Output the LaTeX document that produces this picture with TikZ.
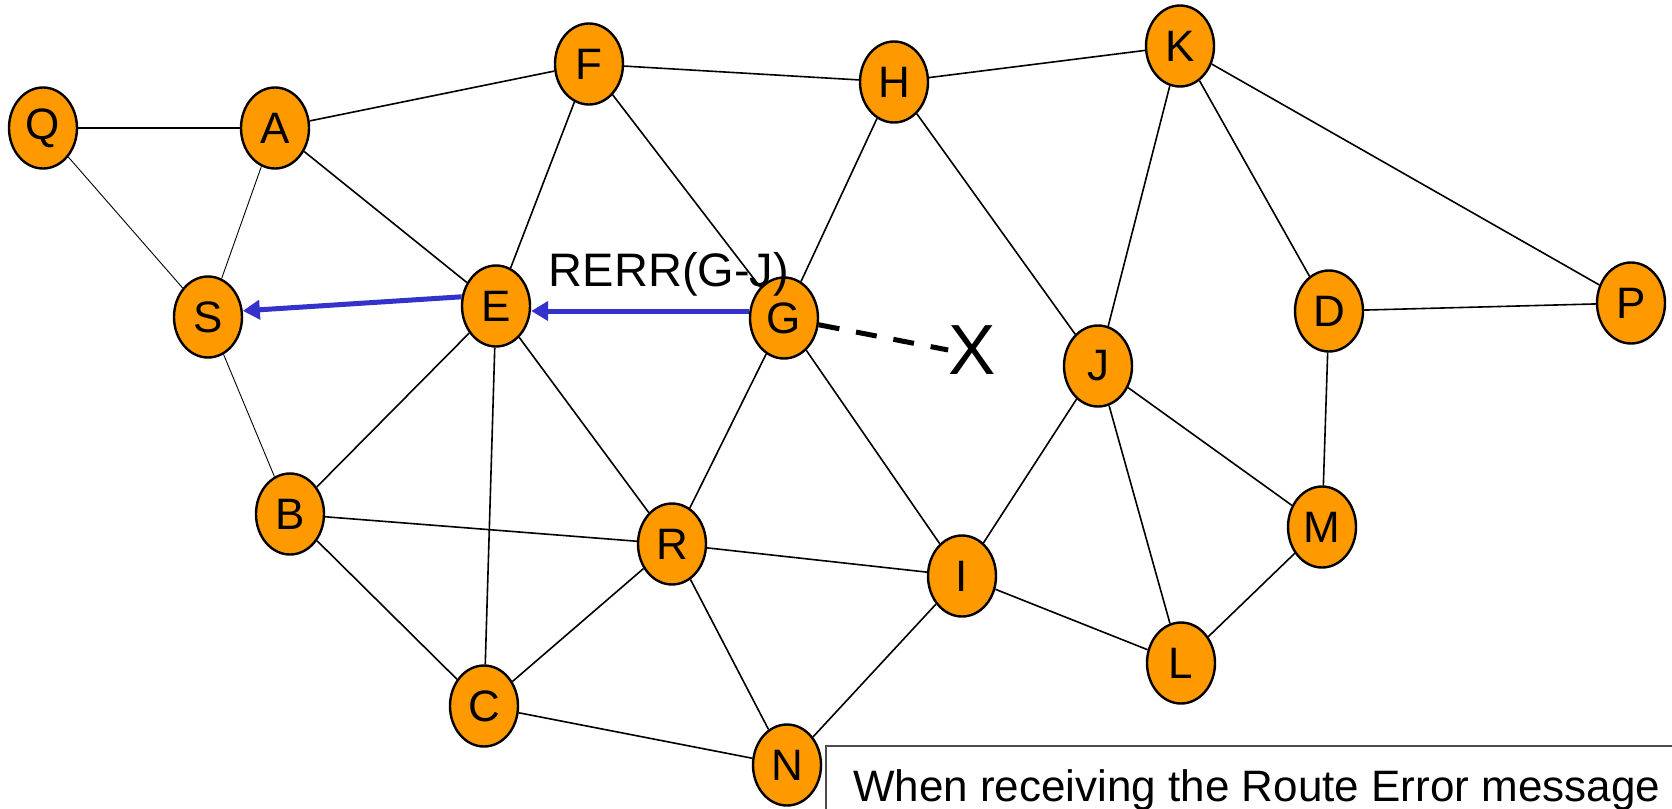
\documentclass[tikz,border=0pt]{standalone}
\usepackage{fontspec}
\setmainfont{Liberation Sans}
\usetikzlibrary{arrows.meta, positioning, shapes.geometric}
\definecolor{hostorange}{RGB}{255,153,0}
\definecolor{rerrblue}{RGB}{51,51,204}

\begin{document}
\begin{tikzpicture}[x=1pt, y=-1pt,
  host/.style={draw, ellipse, fill=hostorange, line width=2.4pt,
    minimum width=68pt, minimum height=81pt, inner sep=0pt,
    font=\fontsize{44}{48}\selectfont},
  link/.style={line width=1.6pt},
  weak/.style={line width=0.9pt},
  rerr/.style={draw=rerrblue, line width=5pt, -{Triangle[length=17pt,width=19pt]}}]
  \useasboundingbox (0,0) rectangle (1672,808);
  \clip (0,0) rectangle (1672,808);

  % hosts
  \node[host] (q) at (43,128)  {Q};
  \node[host] (a) at (275,128) {A};
  \node[host] (f) at (589,64)  {F};
  \node[host] (h) at (894,82)  {H};
  \node[host] (k) at (1180,46) {K};
  \node[host] (s) at (208,317) {S};
  \node[host] (e) at (496,306) {E};
  \node[host] (g) at (784,318) {G};
  \node[host] (d) at (1329,311) {D};
  \node[host] (p) at (1631,303) {P};
  \node[host] (j) at (1098,366) {J};
  \node[host] (b) at (290,514) {B};
  \node[host] (r) at (672,544) {R};
  \node[host] (i) at (962,576) {I};
  \node[host] (m) at (1322,527) {M};
  \node[host] (l) at (1181,663) {L};
  \node[host] (c) at (484,706) {C};
  \node[host] (n) at (787,765) {N};
  \node[inner sep=0pt, font=\fontsize{71}{71}\selectfont] (x) at (972,350) {X};

  % links
  \draw[link] (q) -- (a);
  \draw[weak] (q) -- (s);
  \draw[weak] (a) -- (s);
  \draw[link] (a) -- (f);
  \draw[link] (a) -- (e);
  \draw[link] (f) -- (h);
  \draw[link] (f) -- (e);
  \draw[link] (f) -- (g);
  \draw[link] (h) -- (k);
  \draw[link] (h) -- (g);
  \draw[link] (h) -- (j);
  \draw[link] (k) -- (j);
  \draw[link] (k) -- (d);
  \draw[link] (k) -- (p);
  \draw[link] (d) -- (p);
  \draw[link] (d) -- (m);
  \draw[weak] (s) -- (b);
  \draw[link] (e) -- (b);
  \draw[link] (e) -- (c);
  \draw[link] (e) -- (r);
  \draw[link] (b) -- (r);
  \draw[link] (b) -- (c);
  \draw[link] (g) -- (r);
  \draw[link] (g) -- (i);
  \draw[link] (r) -- (i);
  \draw[link] (r) -- (c);
  \draw[link] (r) -- (n);
  \draw[link] (c) -- (n);
  \draw[link] (i) -- (n);
  \draw[link] (i) -- (j);
  \draw[link] (i) -- (l);
  \draw[link] (j) -- (l);
  \draw[link] (j) -- (m);
  \draw[link] (m) -- (l);

  % broken link and route error
  \draw[line width=5pt, dash pattern=on 21pt off 17pt] (g) -- (x.west);
  \draw[rerr] ([yshift=7pt]g.west) -- ([yshift=-5pt]e.east);
  \draw[rerr] (e.165) -- (s.10);
  \node[anchor=base, font=\fontsize{47}{50}\selectfont] (lbl) at (669,286) {RERR(G-J)};

  % message box
  \draw[black!70, line width=1.4pt] (826,746) rectangle (1700,840);
  \node[anchor=base west, inner sep=0pt, font=\fontsize{44}{48}\selectfont] (msg) at (853,801)
    {When receiving the Route Error message};
\end{tikzpicture}
\end{document}
